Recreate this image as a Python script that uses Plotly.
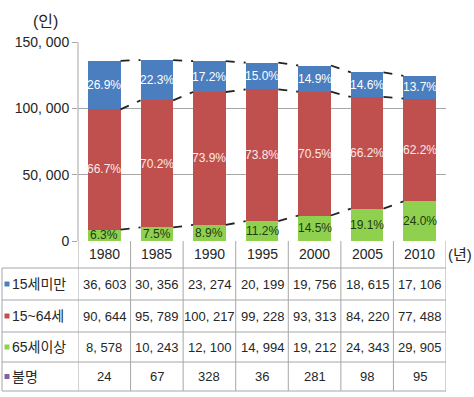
import plotly.graph_objects as go

# ---------------- data ----------------
years = ["1980", "1985", "1990", "1995", "2000", "2005", "2010"]
under15 = [36603, 30356, 23274, 20199, 19756, 18615, 17106]
age15_64 = [90644, 95789, 100217, 99228, 93313, 84220, 77488]
over65 = [8578, 10243, 12100, 14994, 19212, 24343, 29905]
unknown = [24, 67, 328, 36, 281, 98, 95]
pct_under15 = [26.9, 22.3, 17.2, 15.0, 14.9, 14.6, 13.7]
pct_15_64 = [66.7, 70.2, 73.9, 73.8, 70.5, 66.2, 62.2]
pct_over65 = [6.3, 7.5, 8.9, 11.2, 14.5, 19.1, 24.0]
series_names = ["15세미만", "15~64세", "65세이상", "불명"]
y_ticks = [0, 50000, 100000, 150000]
y_unit = "(인)"
x_unit = "(년)"

# ---------------- style ----------------
W, H = 474, 397
ML, MR, MT, MB = 78, 28, 42, 156
PW, PH = W - ML - MR, H - MT - MB
FONT = "Liberation Sans, Arial, Noto Sans CJK KR, sans-serif"
C_BLUE = "#4A7EBF"
C_RED = "#C0504D"
C_GREEN = "#8FD14F"
C_PURPLE = "#8064A2"
GRID = "#A6A6A6"
TXT = "#262626"
BARW = 0.62


def py(Y):  # pixel y -> paper y
    return (MT + PH - Y) / PH


def px(X):  # pixel x -> paper x
    return (X - ML) / PW


def fmt(v):
    return f"{v:,}".replace(",", ", ")


def fpct(p):
    return f"{p:.1f}%"


def text(x, y, s, size, color=TXT, xref="x", yref="paper", xanchor="center", family=FONT):
    return dict(x=x, y=y, xref=xref, yref=yref, text=s, showarrow=False,
                xanchor=xanchor, yanchor="middle",
                font=dict(family=family, size=size, color=color))


xs = list(range(len(years)))
fig = go.Figure()

fig.add_trace(go.Bar(x=xs, y=over65, marker=dict(color=C_GREEN, line=dict(width=0)),
                     width=BARW, name=series_names[2]))
fig.add_trace(go.Bar(x=xs, y=age15_64, marker=dict(color=C_RED, line=dict(width=0)),
                     width=BARW, name=series_names[1]))
fig.add_trace(go.Bar(x=xs, y=under15, marker=dict(color=C_BLUE, line=dict(width=0)),
                     width=BARW, name=series_names[0]))

# series lines (dashed connectors)
lvl1 = over65
lvl2 = [a + b for a, b in zip(over65, age15_64)]
lvl3 = [a + b + c for a, b, c in zip(over65, age15_64, under15)]
for lvl in (lvl1, lvl2, lvl3):
    lx, ly = [], []
    for i in range(len(xs) - 1):
        lx += [xs[i] + BARW / 2, xs[i + 1] - BARW / 2, None]
        ly += [lvl[i], lvl[i + 1], None]
    fig.add_trace(go.Scatter(x=lx, y=ly, mode="lines",
                             line=dict(color="#222222", width=1.8, dash="dash"),
                             hoverinfo="skip", showlegend=False))

ann = []
# percent labels
for i in xs:
    ann.append(text(i, over65[i] / 2, fpct(pct_over65[i]), 12, "#1E3A12", yref="y"))
    ann.append(text(i, over65[i] + age15_64[i] / 2, fpct(pct_15_64[i]), 12, "#FBE9E9", yref="y"))
    ann.append(text(i, lvl2[i] + under15[i] / 2, fpct(pct_under15[i]), 12, "white", yref="y"))

# table
row_edges = [241, 268, 300, 332, 362, 391]
rows = [under15, age15_64, over65, unknown]
colors = [C_BLUE, C_RED, C_GREEN, C_PURPLE]
for i in xs:
    ann.append(text(i, py((row_edges[0] + row_edges[1]) / 2), years[i], 14))
    for r, vals in enumerate(rows):
        ann.append(text(i, py((row_edges[r + 1] + row_edges[r + 2]) / 2), fmt(vals[i]), 13))

shapes = []
for r, name in enumerate(series_names):
    yc = py((row_edges[r + 1] + row_edges[r + 2]) / 2)
    ann.append(text(px(10), yc, name, 14, xref="paper", xanchor="left"))
    shapes.append(dict(type="rect", xref="paper", yref="paper",
                       x0=px(4.5), x1=px(9.5), y0=yc - 2.5 / PH, y1=yc + 2.5 / PH,
                       fillcolor=colors[r], line=dict(width=0)))

# horizontal table lines
for Y in row_edges[1:]:
    shapes.append(dict(type="line", xref="paper", yref="paper", x0=px(2), x1=1,
                       y0=py(Y), y1=py(Y), line=dict(color=GRID, width=1)))
# vertical table lines
for k in range(len(xs) + 1):
    shapes.append(dict(type="line", xref="x", yref="paper", x0=k - 0.5, x1=k - 0.5,
                       y0=py(row_edges[0]), y1=py(row_edges[-1]),
                       line=dict(color=GRID, width=1)))
shapes.append(dict(type="line", xref="paper", yref="paper", x0=px(2), x1=px(2),
                   y0=py(row_edges[1]), y1=py(row_edges[-1]), line=dict(color=GRID, width=1)))
# left axis line in plot area
shapes.append(dict(type="line", xref="paper", yref="paper", x0=0, x1=0, y0=0, y1=1,
                   line=dict(color=GRID, width=1)))

ann.append(text(px(45), py(21), y_unit, 16, xref="paper"))
ann.append(text(px(460), py(254), x_unit, 15, xref="paper"))

fig.update_layout(
    width=W, height=H, margin=dict(l=ML, r=MR, t=MT, b=MB),
    barmode="stack", showlegend=False,
    plot_bgcolor="white", paper_bgcolor="white",
    xaxis=dict(range=[-0.5, len(years) - 0.5], showticklabels=False, showgrid=False,
               zeroline=False, showline=False, ticks=""),
    yaxis=dict(range=[0, 150000], tickvals=y_ticks, ticktext=[fmt(v) for v in y_ticks],
               showgrid=True, gridcolor=GRID, gridwidth=1, zeroline=False,
               ticks="outside", ticklen=5, tickcolor=GRID,
               tickfont=dict(family=FONT, size=14, color=TXT)),
    annotations=ann, shapes=shapes,
)

fig.write_html("out.html")
